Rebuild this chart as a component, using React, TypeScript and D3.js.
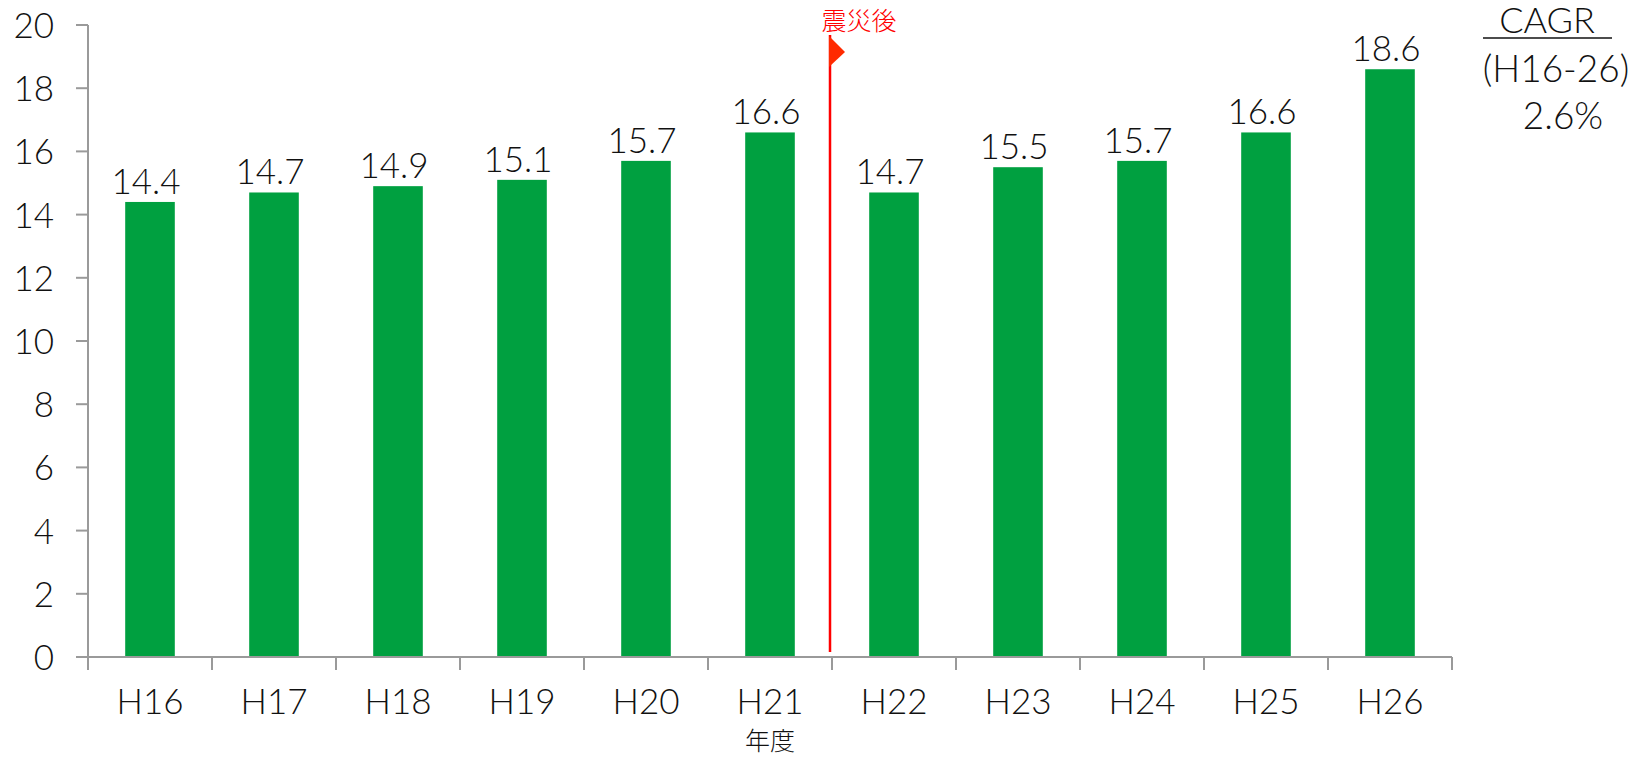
import React from "react";
import * as d3 from "d3";

const categories = ["H16", "H17", "H18", "H19", "H20", "H21", "H22", "H23", "H24", "H25", "H26"];
const values = [14.4, 14.7, 14.9, 15.1, 15.7, 16.6, 14.7, 15.5, 15.7, 16.6, 18.6];
const yTicks = [0, 2, 4, 6, 8, 10, 12, 14, 16, 18, 20];
const markerAfter = "H21";
const markerLabel = "震災後";
const xAxisTitle = "年度";
const cagrLines = ["CAGR", "(H16-26)", "2.6%"];

const W = 1649;
const H = 758;
const FONT = "Lato, 'Open Sans', sans-serif";
const FS = 35;

export default function App() {
  const x = d3.scaleBand<string>().domain(categories).range([88, 1452]).paddingInner(0.6).paddingOuter(0.3);
  const xOuter = d3.scaleBand<string>().domain(categories).range([88, 1452]);
  const y = d3.scaleLinear().domain([0, 20]).range([657, 25]);
  const axisColor = "#9a9a9a";
  const markX = (xOuter(markerAfter) as number) + xOuter.bandwidth();

  return (
    <svg width={W} height={H} style={{ position: "absolute", left: 0, top: 0 }} fontFamily={FONT} fontWeight={300}>
      <rect width={W} height={H} fill="#fff" />
      {categories.map((c, i) => (
        <rect key={c} x={x(c)} y={y(values[i])} width={x.bandwidth()} height={y(0) - y(values[i])} fill="#00a040" />
      ))}
      {categories.map((c, i) => (
        <text key={"v" + c} x={(x(c) as number) + x.bandwidth() / 2 - 4} y={y(values[i]) - 8} textAnchor="middle" fontSize={FS} fill="#111">
          {values[i].toFixed(1)}
        </text>
      ))}
      {/* y axis */}
      <line x1={88} x2={88} y1={y(20)} y2={y(0)} stroke={axisColor} strokeWidth={2} />
      {yTicks.map((t) => (
        <g key={"yt" + t}>
          <line x1={76} x2={88} y1={y(t)} y2={y(t)} stroke={axisColor} strokeWidth={2} />
          <text x={54} y={y(t) + 13} textAnchor="end" fontSize={FS} fill="#111">{t}</text>
        </g>
      ))}
      {/* x axis */}
      <line x1={76} x2={1452} y1={y(0)} y2={y(0)} stroke={axisColor} strokeWidth={2} />
      {[...categories.map((c) => xOuter(c) as number), 1452].map((tx, i) => (
        <line key={"xt" + i} x1={tx} x2={tx} y1={y(0)} y2={y(0) + 13} stroke={axisColor} strokeWidth={2} />
      ))}
      {categories.map((c) => (
        <text key={"xl" + c} x={(xOuter(c) as number) + xOuter.bandwidth() / 2} y={714} textAnchor="middle" fontSize={FS} fill="#111">
          {c}
        </text>
      ))}
      <text x={(xOuter(markerAfter) as number) + xOuter.bandwidth() / 2} y={750} textAnchor="middle" fontSize={25} fill="#111" fontWeight={300} fontFamily="'Noto Sans CJK JP', sans-serif">
        {xAxisTitle}
      </text>
      {/* marker */}
      <line x1={markX - 2} x2={markX - 2} y1={35} y2={652} stroke="#ff0000" strokeWidth={2.5} />
      <path d={`M${markX - 3},36 L${markX + 13},52 L${markX - 3},67 Z`} fill="#ff2a00" />
      <text x={markX + 27} y={30} textAnchor="middle" fontSize={25} fill="#ff0000" fontWeight={300} fontFamily="'Noto Sans CJK JP', sans-serif">
        {markerLabel}
      </text>
      {/* CAGR */}
      <text x={1547} y={33} textAnchor="middle" fontSize={36} fill="#111">{cagrLines[0]}</text>
      <line x1={1483} x2={1612} y1={38} y2={38} stroke="#111" strokeWidth={1.5} />
      <text x={1556} y={82} textAnchor="middle" fontSize={37} fill="#111">{cagrLines[1]}</text>
      <text x={1563} y={129} textAnchor="middle" fontSize={37} fill="#111">{cagrLines[2]}</text>
    </svg>
  );
}
